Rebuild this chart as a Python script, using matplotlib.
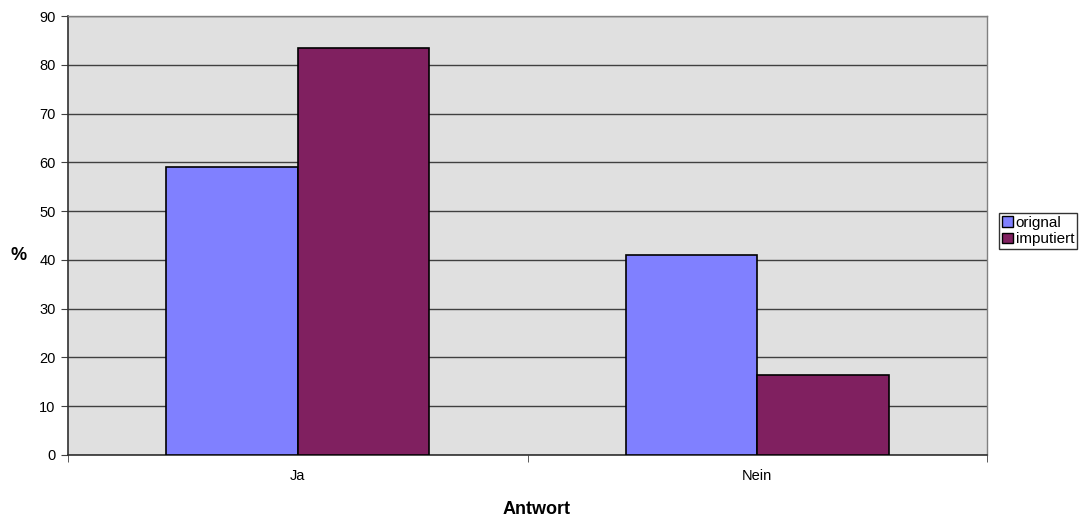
import matplotlib
matplotlib.use("Agg")
import matplotlib.pyplot as plt
import numpy as np
from matplotlib.patches import Patch

plt.rcParams['font.family'] = ['Liberation Sans', 'DejaVu Sans']

categories = ["Ja", "Nein"]
series_names = ["orignal", "imputiert"]
orignal = [59.1, 40.9]
imputiert = [83.5, 16.5]
colors = ["#8080FF", "#802060"]

fig = plt.figure(figsize=(10.85, 5.21), dpi=100)
ax = fig.add_axes([68 / 1085, 1 - 455 / 521, (987 - 68) / 1085, (455 - 16) / 521])
ax.set_facecolor("#E0E0E0")

x = np.arange(len(categories))
width = 1 / 3.5
ax.bar(x - width / 2, orignal, width, color=colors[0], edgecolor="black", linewidth=1.2, zorder=3)
ax.bar(x + width / 2, imputiert, width, color=colors[1], edgecolor="black", linewidth=1.2, zorder=3)

ax.set_xlim(-0.5, len(categories) - 0.5)
ax.set_ylim(0, 90)
ax.set_yticks(np.arange(0, 91, 10))
ax.yaxis.grid(True, color="#404040", linewidth=1.0, zorder=1)
ax.set_axisbelow(True)

# category labels centred, tick marks on category boundaries
ax.set_xticks(x)
ax.set_xticklabels(categories, fontsize=10.5)
ax.tick_params(axis="x", which="major", length=0, pad=10)
ax.set_xticks(np.arange(-0.5, len(categories), 1.0), minor=True)
ax.tick_params(axis="x", which="minor", length=5, direction="out", color="#404040")
ax.tick_params(axis="y", length=5, direction="out", labelsize=10.5, color="#404040", pad=4)

for side in ["left", "bottom"]:
    ax.spines[side].set_color("#303030")
    ax.spines[side].set_linewidth(1.2)
for side in ["top", "right"]:
    ax.spines[side].set_color("#808080")
    ax.spines[side].set_linewidth(1.0)

fig.text(537 / 1085, 1 - 510 / 521, "Antwort", fontsize=13, fontweight="bold",
         ha="center", va="center")
fig.text(19 / 1085, 1 - 255 / 521, "%", fontsize=13, fontweight="bold",
         ha="center", va="center")

handles = [Patch(facecolor=c, edgecolor="black", linewidth=1.0) for c in colors]
leg = fig.legend(handles, series_names, loc="upper left",
                 bbox_to_anchor=(999 / 1085, 1 - 213 / 521),
                 fontsize=11, frameon=True, fancybox=False,
                 handlelength=0.7, handleheight=0.7, handletextpad=0.2,
                 borderpad=0.2, labelspacing=0.15, borderaxespad=0)
leg.get_frame().set_edgecolor("black")
leg.get_frame().set_linewidth(1.0)

fig.savefig("out.png", dpi=100)
